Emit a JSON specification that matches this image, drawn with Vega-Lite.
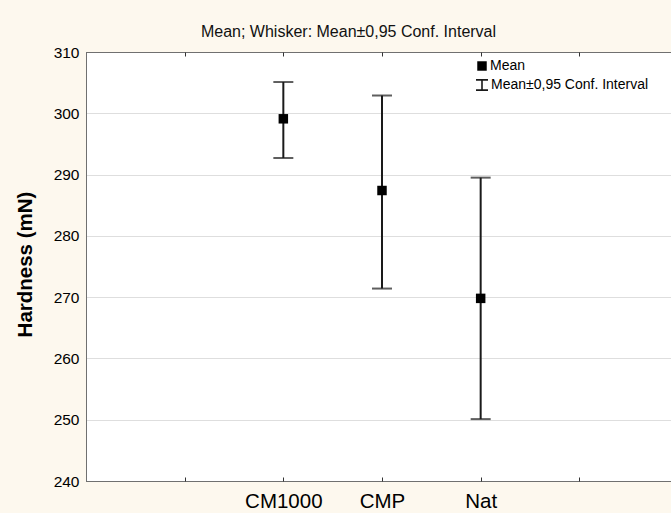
{
  "$schema": "https://vega.github.io/schema/vega-lite/v6.json",
  "autosize": {"type": "none"},
  "padding": {"left": 86, "top": 52, "right": 0, "bottom": 32},
  "width": 585,
  "height": 429,
  "background": "#FDF8EE",
  "config": {
    "view": {"stroke": null, "fill": "white"},
    "font": "Liberation Sans"
  },
  "title": {
    "text": "Mean; Whisker: Mean±0,95 Conf. Interval",
    "fontSize": 16,
    "fontWeight": "normal",
    "color": "#111111",
    "anchor": "middle",
    "frame": "group",
    "dx": -30,
    "offset": 5
  },
  "data": {
    "values": [
      {"sample": "CM1000", "mean": 299.1, "lo": 292.7, "hi": 305.1},
      {"sample": "CMP", "mean": 287.4, "lo": 271.4, "hi": 302.9},
      {"sample": "Nat", "mean": 269.8, "lo": 250.1, "hi": 289.5}
    ]
  },
  "resolve": {"axis": {"x": "independent"}},
  "layer": [
    {
      "mark": {"type": "rule", "strokeWidth": 2},
      "encoding": {
        "x": {
          "field": "sample",
          "type": "nominal",
          "scale": {"type": "point", "domain": ["s0", "s1", "CM1000", "CMP", "Nat", "s5", "s6"], "range": [0, 592], "padding": 0},
          "axis": {
            "orient": "bottom",
            "title": null,
            "labelExpr": "indexof(['CM1000','CMP','Nat'], datum.value) >= 0 ? datum.value : ''",
            "labelFontSize": 20.5,
            "labelColor": "#000000",
            "labelAngle": 0,
            "labelPadding": 10,
            "ticks": false,
            "domainColor": "#707070",
            "grid": false
          }
        },
        "y": {
          "field": "lo",
          "type": "quantitative",
          "title": "Hardness (mN)",
          "scale": {"domain": [240, 310], "nice": false, "zero": false},
          "axis": {
            "values": [240, 250, 260, 270, 280, 290, 300, 310],
            "labelFontSize": 15.5,
            "labelColor": "#000000",
            "labelPadding": 7,
            "ticks": false,
            "domainColor": "#707070",
            "grid": true,
            "gridColor": "#dedede",
            "titleFontSize": 20.5,
            "titleFontWeight": "bold",
            "titleColor": "#000000",
            "titleAngle": -90,
            "titleX": -61,
            "titleY": 212,
            "titleBaseline": "middle",
            "titleAlign": "center"
          }
        },
        "y2": {"field": "hi"},
        "color": {
          "datum": "Mean±0,95 Conf. Interval",
          "scale": {"range": ["#1a1a1a"]},
          "legend": {
            "title": null,
            "orient": "none",
            "legendX": 389,
            "legendY": 26,
            "labelFontSize": 14,
            "labelColor": "#000000",
            "labelOffset": 2,
            "symbolType": "M-1,-0.85H1M0,-0.85V0.85M-1,0.85H1",
            "symbolSize": 144,
            "symbolStrokeWidth": 1.6,
            "symbolStrokeColor": "#000000"
          }
        }
      }
    },
    {
      "mark": {"type": "tick", "orient": "horizontal", "size": 20, "thickness": 2, "color": "#1a1a1a"},
      "encoding": {
        "x": {"field": "sample", "type": "nominal", "axis": null},
        "y": {"field": "lo", "type": "quantitative", "title": "Hardness (mN)"}
      }
    },
    {
      "mark": {"type": "tick", "orient": "horizontal", "size": 20, "thickness": 2, "color": "#1a1a1a"},
      "encoding": {
        "x": {"field": "sample", "type": "nominal", "axis": null},
        "y": {"field": "hi", "type": "quantitative", "title": "Hardness (mN)"}
      }
    },
    {
      "mark": {"type": "point", "filled": true, "color": "#000000", "opacity": 1, "size": 90},
      "encoding": {
        "x": {"field": "sample", "type": "nominal", "axis": null},
        "y": {"field": "mean", "type": "quantitative", "title": "Hardness (mN)"},
        "shape": {
          "datum": "Mean",
          "scale": {"domain": ["Mean"], "range": ["square"]},
          "legend": {
            "title": null,
            "orient": "none",
            "legendX": 389,
            "legendY": 7,
            "labelFontSize": 14,
            "labelColor": "#000000",
            "labelOffset": 1,
            "symbolSize": 90,
            "symbolOpacity": 1
          }
        }
      }
    },
    {
      "mark": {"type": "point", "opacity": 0},
      "encoding": {
        "x": {
          "field": "sample",
          "type": "nominal",
          "axis": {"orient": "top", "title": null, "labels": false, "ticks": false, "domainColor": "#707070", "grid": false}
        },
        "y": {"field": "mean", "type": "quantitative", "title": "Hardness (mN)"}
      }
    },
    {
      "mark": {"type": "point", "opacity": 0},
      "encoding": {
        "x": {
          "field": "sample",
          "type": "nominal",
          "axis": {"orient": "bottom", "offset": -4, "title": null, "labels": false, "domain": false, "ticks": true, "tickSize": 4, "tickColor": "#333333", "grid": false}
        },
        "y": {"field": "mean", "type": "quantitative", "title": "Hardness (mN)"}
      }
    },
    {
      "mark": {"type": "point", "opacity": 0},
      "encoding": {
        "x": {
          "field": "sample",
          "type": "nominal",
          "axis": {"orient": "top", "offset": -4, "title": null, "labels": false, "domain": false, "ticks": true, "tickSize": 4, "tickColor": "#333333", "grid": false}
        },
        "y": {"field": "mean", "type": "quantitative", "title": "Hardness (mN)"}
      }
    }
  ]
}
